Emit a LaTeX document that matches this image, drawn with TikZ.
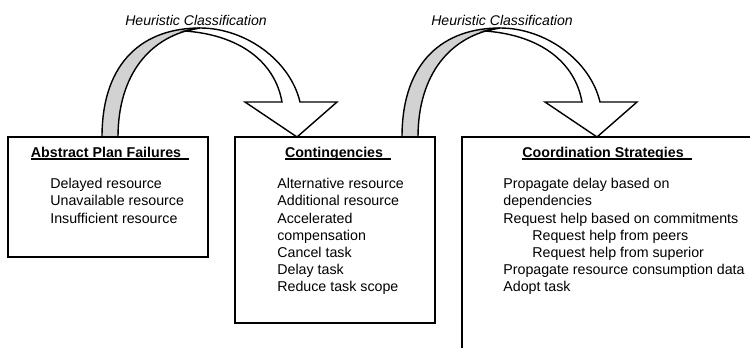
\documentclass[tikz,border=0pt]{standalone}
\usepackage{fontspec}
\setmainfont{Liberation Sans}
\usetikzlibrary{positioning}
\newlength\hdwd
\newcommand{\hdul}[1]{\settowidth{\hdwd}{#1}\rlap{\rule[-1.6pt]{\hdwd}{0.9pt}}#1}

\begin{document}
\begin{tikzpicture}[
  x=0.02cm,y=-0.02cm,
  box/.style={draw,line width=0.8pt,anchor=north west,inner sep=0pt,outer sep=0pt},
  head/.style={font=\fontsize{8.1}{9.8}\selectfont\bfseries,inner sep=0pt,anchor=base},
  items/.style={font=\fontsize{8.1}{9.8}\selectfont,align=left,anchor=north west,inner sep=0pt},
  heur/.style={font=\fontsize{8}{9.6}\selectfont\itshape,inner sep=0pt},
  backside/.style={fill=gray!35,draw,line width=0.8pt,line join=round},
  frontside/.style={fill=white,draw,line width=0.8pt,line join=miter}
]
  \useasboundingbox (0,0) rectangle (750,348);
  % Ribbons
  \filldraw[backside] (102,137) .. controls (102,60) and (145,28) .. (200,28)
    .. controls (150,35) and (118,75) .. (118,137) -- cycle;
  \filldraw[frontside] (200,28) .. controls (245,28) and (290,60) .. (300,102)
    -- (337,102) -- (297,137) -- (245,102) -- (282,102)
    .. controls (275,62) and (240,35) .. (185,31) -- cycle;
  \begin{scope}[shift={(300,0)}]
    \filldraw[backside] (102,137) .. controls (102,60) and (145,28) .. (200,28)
      .. controls (150,35) and (118,75) .. (118,137) -- cycle;
    \filldraw[frontside] (200,28) .. controls (245,28) and (290,60) .. (300,102)
      -- (337,102) -- (297,137) -- (245,102) -- (282,102)
      .. controls (275,62) and (240,35) .. (185,31) -- cycle;
  \end{scope}
  \node[heur] (hc1) at (196,20) {Heuristic Classification};
  \node[heur] (hc2) at (502,20) {Heuristic Classification};
  % Boxes
  \node[box,minimum width=4cm,minimum height=2.4cm] (apf) at (8,137) {};
  \node[box,minimum width=4cm,minimum height=3.72cm] (cont) at (235,137) {};
  \node[box,draw=none,minimum width=5.76cm,minimum height=4.22cm] (coord) at (462,137) {};
  \draw[line width=0.8pt] (coord.south west) -- (coord.north west) -- (coord.north east);
  % Titles
  \node[head] (apft) at (108,157) {\hdul{Abstract Plan Failures\ \ }};
  \node[head] (contt) at (336,157) {\hdul{Contingencies\ \ }};
  \node[head] (coordt) at (605,157) {\hdul{Coordination Strategies\ \ }};
  % Lists
  \node[items] (apfl) at (50,178) {Delayed resource\\Unavailable resource\\Insufficient resource};
  \node[items] (contl) at (277,178) {Alternative resource\\Additional resource\\Accelerated\\compensation\\Cancel task\\Delay task\\Reduce task scope};
  \node[items] (coordl) at (503,178) {Propagate delay based on\\dependencies\\Request help based on commitments\\
    \hspace*{0.58cm}Request help from peers\\\hspace*{0.58cm}Request help from superior\\
    Propagate resource consumption data\\Adopt task};
\end{tikzpicture}
\end{document}
